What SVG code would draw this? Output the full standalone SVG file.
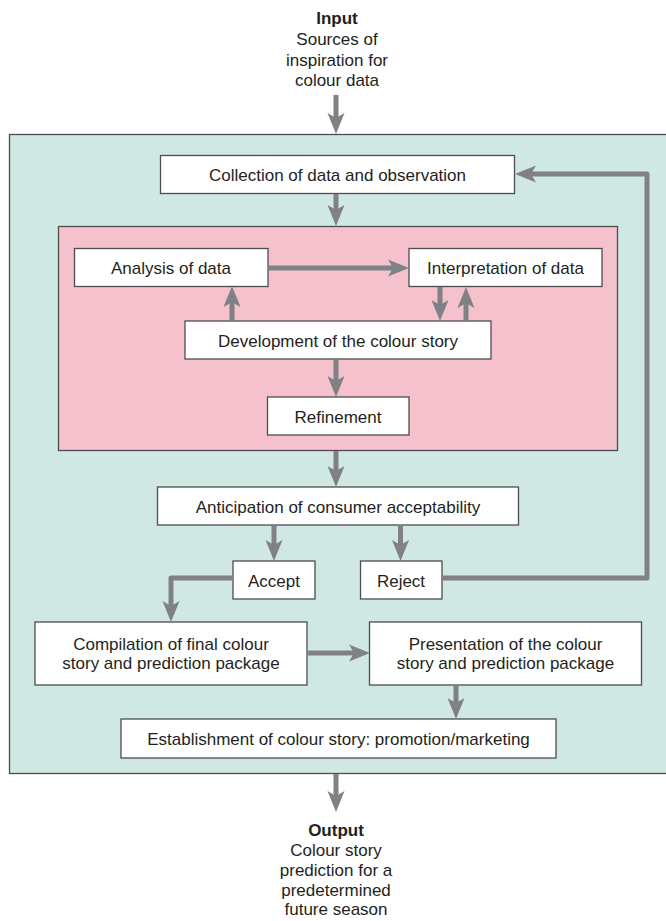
<svg xmlns="http://www.w3.org/2000/svg" width="666" height="921" viewBox="0 0 666 921">
<style>
  .t { font-family: "Liberation Sans", Arial, sans-serif; font-size: 17px; fill: #231f20; text-anchor: middle; }
  .b { font-weight: bold; }
  .box { fill: #ffffff; stroke: #4d4d4f; stroke-width: 1.3; }
  .con { fill: none; stroke: #808184; stroke-width: 5; stroke-linejoin: round; }
</style>
<defs>
  <marker id="ah" markerUnits="userSpaceOnUse" markerWidth="22" markerHeight="18" viewBox="0 0 21 18" refX="9" refY="9" orient="auto">
    <path d="M0,0.5 L21,9 L0,17.5 L5,9 Z" fill="#808184"/>
  </marker>
</defs>
<rect x="0" y="0" width="666" height="921" fill="#ffffff"/>
<g id="input">
  <text class="t b" x="337" y="24">Input</text>
  <text class="t" x="337" y="45">Sources of</text>
  <text class="t" x="337" y="65.5">inspiration for</text>
  <text class="t" x="337" y="86">colour data</text>
</g>
<g id="process">
  <rect x="9.5" y="134.5" width="662" height="639" fill="#cfe8e3" stroke="#4d4d4f" stroke-width="1.3"/>
</g>
<g id="analysis-group">
  <rect x="58.5" y="226.5" width="559" height="224" fill="#f4c1cc" stroke="#4d4d4f" stroke-width="1.3"/>
</g>
<g id="collection">
  <rect class="box" x="160.5" y="155.5" width="354" height="38"/>
  <text class="t" x="337.5" y="181">Collection of data and observation</text>
</g>
<g id="analysis">
  <rect class="box" x="74.5" y="248.5" width="193.5" height="38"/>
  <text class="t" x="171" y="274">Analysis of data</text>
</g>
<g id="interpretation">
  <rect class="box" x="409" y="248.5" width="193" height="38"/>
  <text class="t" x="505.5" y="274">Interpretation of data</text>
</g>
<g id="development">
  <rect class="box" x="185" y="321" width="306" height="38"/>
  <text class="t" x="338" y="346.5">Development of the colour story</text>
</g>
<g id="refinement">
  <rect class="box" x="267.5" y="397" width="141.5" height="38"/>
  <text class="t" x="338" y="422.5">Refinement</text>
</g>
<g id="anticipation">
  <rect class="box" x="157.5" y="487" width="361" height="38"/>
  <text class="t" x="338" y="512.5">Anticipation of consumer acceptability</text>
</g>
<g id="accept">
  <rect class="box" x="233" y="561" width="82" height="38"/>
  <text class="t" x="274" y="586.5">Accept</text>
</g>
<g id="reject">
  <rect class="box" x="360.5" y="561" width="81.5" height="38"/>
  <text class="t" x="401" y="586.5">Reject</text>
</g>
<g id="compilation">
  <rect class="box" x="35" y="622" width="272" height="63"/>
  <text class="t" x="171" y="650">Compilation of final colour</text>
  <text class="t" x="171" y="668.5">story and prediction package</text>
</g>
<g id="presentation">
  <rect class="box" x="369.5" y="622" width="272" height="63"/>
  <text class="t" x="505.5" y="650">Presentation of the colour</text>
  <text class="t" x="505.5" y="668.5">story and prediction package</text>
</g>
<g id="establishment">
  <rect class="box" x="121" y="719" width="435" height="39"/>
  <text class="t" x="338.5" y="744.5">Establishment of colour story: promotion/marketing</text>
</g>
<g id="output">
  <text class="t b" x="336" y="836">Output</text>
  <text class="t" x="336" y="856">Colour story</text>
  <text class="t" x="336" y="876">prediction for a</text>
  <text class="t" x="336" y="896">predetermined</text>
  <text class="t" x="336" y="915">future season</text>
</g>
<g id="connectors">
  <path class="con" marker-end="url(#ah)" d="M336,95 V122"/>
  <path class="con" marker-end="url(#ah)" d="M336,194 V214"/>
  <path class="con" marker-end="url(#ah)" d="M268,268 H397"/>
  <path class="con" marker-end="url(#ah)" d="M232,321 V298"/>
  <path class="con" marker-end="url(#ah)" d="M440,287 V309"/>
  <path class="con" marker-end="url(#ah)" d="M466,321 V299"/>
  <path class="con" marker-end="url(#ah)" d="M336,359 V385"/>
  <path class="con" marker-end="url(#ah)" d="M336,451 V475"/>
  <path class="con" marker-end="url(#ah)" d="M274,525 V549"/>
  <path class="con" marker-end="url(#ah)" d="M400.5,525 V549"/>
  <path class="con" marker-end="url(#ah)" d="M442,578 H647 V174 H527"/>
  <path class="con" marker-end="url(#ah)" d="M233,578 H171 V610"/>
  <path class="con" marker-end="url(#ah)" d="M307,653 H358"/>
  <path class="con" marker-end="url(#ah)" d="M456,685 V707"/>
  <path class="con" marker-end="url(#ah)" d="M336,774 V800"/>
</g>
</svg>
